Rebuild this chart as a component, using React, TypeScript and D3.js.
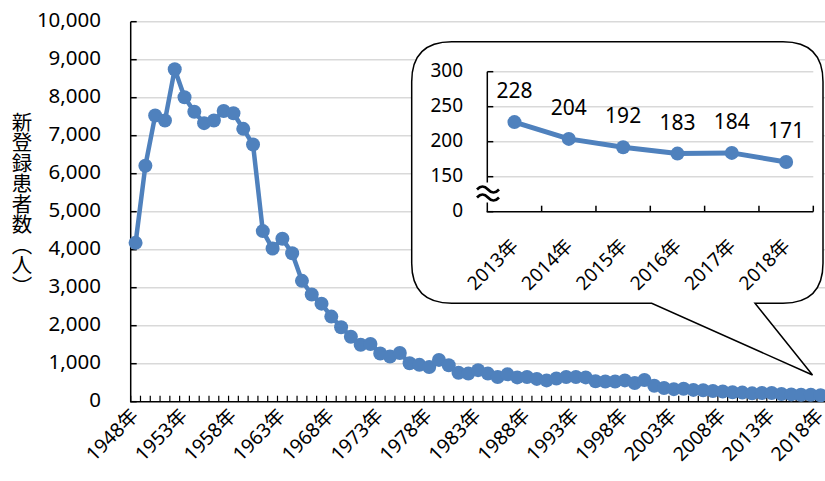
import React from 'react';
import * as d3 from 'd3';

const years = [
  1948, 1949, 1950, 1951, 1952, 1953, 1954, 1955, 1956, 1957,
  1958, 1959, 1960, 1961, 1962, 1963, 1964, 1965, 1966, 1967,
  1968, 1969, 1970, 1971, 1972, 1973, 1974, 1975, 1976, 1977,
  1978, 1979, 1980, 1981, 1982, 1983, 1984, 1985, 1986, 1987,
  1988, 1989, 1990, 1991, 1992, 1993, 1994, 1995, 1996, 1997,
  1998, 1999, 2000, 2001, 2002, 2003, 2004, 2005, 2006, 2007,
  2008, 2009, 2010, 2011, 2012, 2013, 2014, 2015, 2016, 2017, 2018,
];

const patients = [
  4180, 6210, 7530, 7400, 8750, 8010, 7630, 7330, 7400, 7650,
  7590, 7180, 6770, 4490, 4030, 4290, 3905, 3180, 2820, 2580,
  2240, 1960, 1710, 1500, 1520, 1270, 1190, 1280, 1010, 970,
  910, 1100, 960, 760, 740, 830, 740, 650, 720, 640,
  650, 600, 560, 610, 650, 650, 640, 540, 530, 530,
  560, 490, 570, 420, 360, 330, 340, 310, 300, 280,
  270, 250, 240, 220, 230, 228, 204, 192, 183, 184, 171,
];

const labelYears = [1948, 1953, 1958, 1963, 1968, 1973, 1978, 1983, 1988, 1993, 1998, 2003, 2008, 2013, 2018];
const yTicks = [0, 1000, 2000, 3000, 4000, 5000, 6000, 7000, 8000, 9000, 10000];

const insetYears = ['2013年', '2014年', '2015年', '2016年', '2017年', '2018年'];
const insetValues = [228, 204, 192, 183, 184, 171];
const insetTickValues = [100, 150, 200, 250, 300];
const insetTickLabels = ['0', '150', '200', '250', '300'];

const FONT = "'Noto Sans', 'Noto Sans CJK JP', sans-serif";
const BLUE = '#4F81BD';
const GRID = '#D9D9D9';

export default function App() {
  const W = 825;
  const H = 481;

  // main chart scales
  const x = d3.scaleBand<number>().domain(years).range([130.7, 825.5]);
  const y = d3.scaleLinear().domain([0, 10000]).range([401.7, 21.7]);
  const cx = (yr: number) => (x(yr) as number) + x.bandwidth() / 2;
  const line = d3
    .line<number>()
    .x((_, i) => cx(years[i]))
    .y((d) => y(d));

  // inset scales
  const ix = d3.scaleBand<string>().domain(insetYears).range([487.3, 813.3]);
  const iy = d3.scaleLinear().domain([100, 300]).range([211.7, 71.7]);
  const icx = (c: string) => (ix(c) as number) + ix.bandwidth() / 2;
  const iline = d3
    .line<number>()
    .x((_, i) => icx(insetYears[i]))
    .y((d) => iy(d));

  // callout path
  const L = 411.7, T = 41.7, R = 823, B = 303.3, r = 40;
  const callout = [
    `M${L + r},${T}`,
    `L${R - r},${T}`,
    `Q${R},${T} ${R},${T + r}`,
    `L${R},${B - r}`,
    `Q${R},${B} ${R - r},${B}`,
    `L755,${B}`,
    `L812.5,375`,
    `L651.7,${B}`,
    `L${L + r},${B}`,
    `Q${L},${B} ${L},${B - r}`,
    `L${L},${T + r}`,
    `Q${L},${T} ${L + r},${T}`,
    'Z',
  ].join(' ');

  const yBase = y(0);

  return (
    <svg
      width={W}
      height={H}
      viewBox={`0 0 ${W} ${H}`}
      style={{ position: 'absolute', left: 0, top: 0, background: '#fff' }}
      fontFamily={FONT}
    >
      <rect x={0} y={0} width={W} height={H} fill="#fff" />

      {/* main gridlines */}
      {yTicks.filter((t) => t > 0).map((t) => (
        <line key={'g' + t} x1={130.7} x2={W} y1={y(t)} y2={y(t)} stroke={GRID} strokeWidth={1.5} />
      ))}

      {/* main axes */}
      <line x1={130.7} x2={130.7} y1={y(10000)} y2={yBase} stroke="#000" strokeWidth={1.5} />
      <line x1={130} x2={W} y1={yBase} y2={yBase} stroke="#000" strokeWidth={1.5} />
      {yTicks.map((t) => (
        <line key={'yt' + t} x1={130.7} x2={136.7} y1={y(t)} y2={y(t)} stroke="#000" strokeWidth={1.5} />
      ))}
      {years.map((yr) => (
        <line key={'xt' + yr} x1={x(yr) as number} x2={x(yr) as number} y1={yBase} y2={yBase - 6} stroke="#000" strokeWidth={1.2} />
      ))}

      {/* y tick labels */}
      {yTicks.map((t) => (
        <text key={'yl' + t} x={101} y={y(t)} textAnchor="end" dominantBaseline="middle" fontSize={20.5} fill="#000">
          {d3.format(',')(t)}
        </text>
      ))}

      {/* x tick labels */}
      {labelYears.map((yr) => {
        const ax = cx(yr) + 4;
        const ay = 417;
        return (
          <text key={'xl' + yr} x={ax} y={ay} textAnchor="end" fontSize={19.5} transform={`rotate(-45 ${ax} ${ay})`} fill="#000">
            {yr + '年'}
          </text>
        );
      })}

      {/* y axis title */}
      <text
        x={22}
        y={204}
        textAnchor="middle"
        fontSize={20.5}
        fontFamily="'Noto Sans CJK JP', sans-serif"
        style={{ writingMode: 'vertical-rl', textOrientation: 'upright' } as any}
        fill="#000"
      >
        新登録患者数（人）
      </text>

      {/* main line */}
      <path d={line(patients) || ''} fill="none" stroke={BLUE} strokeWidth={4.5} strokeLinejoin="round" />
      {patients.map((v, i) => (
        <circle key={'p' + i} cx={cx(years[i])} cy={y(v)} r={7} fill={BLUE} />
      ))}

      {/* callout */}
      <path d={callout} fill="#fff" stroke="#000" strokeWidth={1.5} />

      {/* inset gridlines */}
      {insetTickValues.filter((t) => t > 100).map((t) => (
        <line key={'ig' + t} x1={487.3} x2={813.3} y1={iy(t)} y2={iy(t)} stroke={GRID} strokeWidth={1.5} />
      ))}

      {/* inset axes */}
      <line x1={487.3} x2={487.3} y1={iy(300)} y2={iy(100)} stroke="#000" strokeWidth={1.5} />
      <line x1={486.6} x2={813.3} y1={iy(100)} y2={iy(100)} stroke="#000" strokeWidth={1.5} />
      {insetTickValues.map((t) => (
        <line key={'iyt' + t} x1={487.3} x2={493.3} y1={iy(t)} y2={iy(t)} stroke="#000" strokeWidth={1.5} />
      ))}
      {insetYears.map((c) => (
        <line key={'ixt' + c} x1={(ix(c) as number) + ix.bandwidth()} x2={(ix(c) as number) + ix.bandwidth()} y1={iy(100)} y2={iy(100) - 6} stroke="#000" strokeWidth={1.5} />
      ))}

      {/* axis break symbol */}
      <rect x={476} y={182.5} width={23} height={20} fill="#fff" />
      <path d="M477,189.5 q5.5,-6 11,0 t11,0" fill="none" stroke="#000" strokeWidth={2.6} />
      <path d="M477,197.5 q5.5,-6 11,0 t11,0" fill="none" stroke="#000" strokeWidth={2.6} />

      {/* inset tick labels */}
      {insetTickValues.map((t, i) => (
        <text key={'iyl' + t} x={463} y={iy(t)} textAnchor="end" dominantBaseline="middle" fontSize={19} fill="#000">
          {insetTickLabels[i]}
        </text>
      ))}
      {insetYears.map((c) => {
        const ax = icx(c) + 5;
        const ay = 247;
        return (
          <text key={'ixl' + c} x={ax} y={ay} textAnchor="end" fontSize={19} transform={`rotate(-45 ${ax} ${ay})`} fill="#000">
            {c}
          </text>
        );
      })}

      {/* inset line */}
      <path d={iline(insetValues) || ''} fill="none" stroke={BLUE} strokeWidth={5} strokeLinejoin="round" />
      {insetValues.map((v, i) => (
        <circle key={'ip' + i} cx={icx(insetYears[i])} cy={iy(v)} r={7} fill={BLUE} />
      ))}
      {insetValues.map((v, i) => (
        <text key={'idl' + i} x={icx(insetYears[i])} y={iy(v) - 24} textAnchor="middle" fontSize={21} fill="#000">
          {v}
        </text>
      ))}
    </svg>
  );
}
